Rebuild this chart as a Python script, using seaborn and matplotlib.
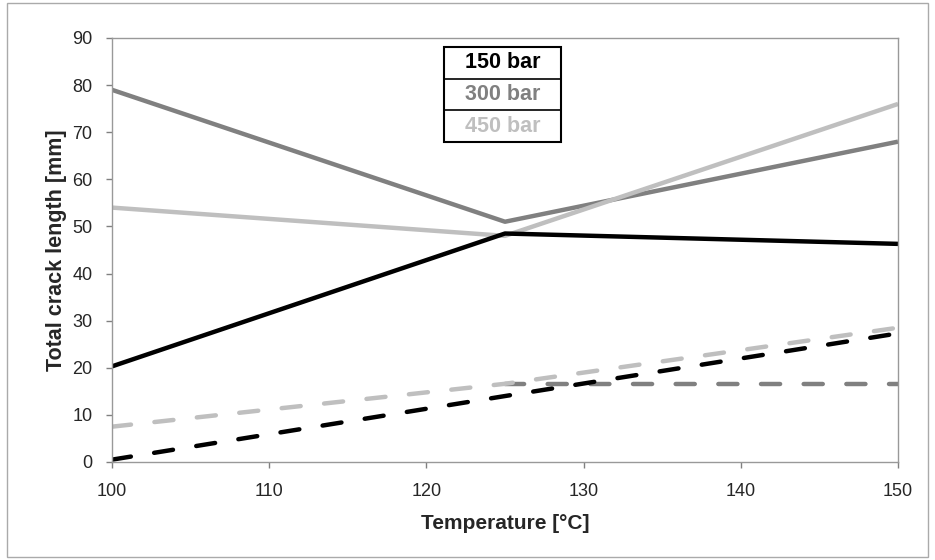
import matplotlib
matplotlib.use("Agg")
import matplotlib.pyplot as plt
import seaborn as sns
import pandas as pd
from matplotlib.patches import Rectangle

sns.set_theme(style="white")
plt.rcParams['font.family'] = ['Liberation Sans', 'DejaVu Sans']

temps = [100, 125, 150]
solid_150 = [20.3, 48.5, 46.3]
solid_300 = [79.0, 51.0, 68.0]
solid_450 = [54.0, 48.0, 76.0]
dash_150 = [0.5, 14.0, 27.3]
dash_300_t = [125, 150]
dash_300 = [16.6, 16.6]
dash_450 = [7.5, 16.6, 28.5]

legend_labels = ["150 bar", "300 bar", "450 bar"]
colors = ["#000000", "#808080", "#bfbfbf"]

fig = plt.figure(figsize=(9.35, 5.6), dpi=100)
ax = fig.add_axes([112 / 935, 98 / 560, 786 / 935, 424 / 560])

series = [
    (temps, solid_300, colors[1], "-"),
    (temps, solid_450, colors[2], "-"),
    (temps, solid_150, colors[0], "-"),
    (dash_300_t, dash_300, colors[1], "--"),
    (temps, dash_450, colors[2], "--"),
    (temps, dash_150, colors[0], "--"),
]
for x, y, c, ls in series:
    df = pd.DataFrame({"T": x, "L": y})
    sns.lineplot(data=df, x="T", y="L", ax=ax, color=c, linewidth=3.2)
    l = ax.lines[-1]
    l.set_linestyle(ls)
    if ls == "--":
        l.set_dashes([4.3, 5.3])
        l.set_dash_capstyle("round")
    l.set_solid_capstyle("butt")

ax.set_xlim(100, 150)
ax.set_ylim(0, 90)
ax.set_xticks(range(100, 151, 10))
ax.set_yticks(range(0, 91, 10))
ax.tick_params(axis="both", labelsize=13, length=4, width=1, color="#808080",
               direction="out", left=True, bottom=True)
ax.tick_params(axis="x", pad=11)
ax.tick_params(axis="y", pad=10)
for s in ax.spines.values():
    s.set_color("#999999")
    s.set_linewidth(1)
ax.set_xlabel("Temperature [°C]", fontsize=15, fontweight="bold", labelpad=10)
ax.set_ylabel("Total crack length [mm]", fontsize=15.5, fontweight="bold", labelpad=4)

# legend table
bx0, by0, bw, bh = 444 / 935, 1 - 142 / 560, 117 / 935, 95 / 560
fig.add_artist(Rectangle((bx0, by0), bw, bh, transform=fig.transFigure,
                         fill=False, edgecolor="black", linewidth=1.5))
for i in (1, 2):
    yy = by0 + bh - i * bh / 3
    fig.add_artist(plt.Line2D([bx0, bx0 + bw], [yy, yy], transform=fig.transFigure,
                              color="black", linewidth=1.2))
for i, (lab, c) in enumerate(zip(legend_labels, colors)):
    yy = by0 + bh - (i + 0.5) * bh / 3
    fig.text(bx0 + bw / 2, yy, lab, ha="center", va="center", fontsize=15.5,
             fontweight="bold", color=c)

# outer frame
fig.add_artist(Rectangle((7 / 935, 3 / 560), 921 / 935, 554 / 560, transform=fig.transFigure,
                         fill=False, edgecolor="#aaaaaa", linewidth=1))

fig.savefig("out.png", dpi=100)
